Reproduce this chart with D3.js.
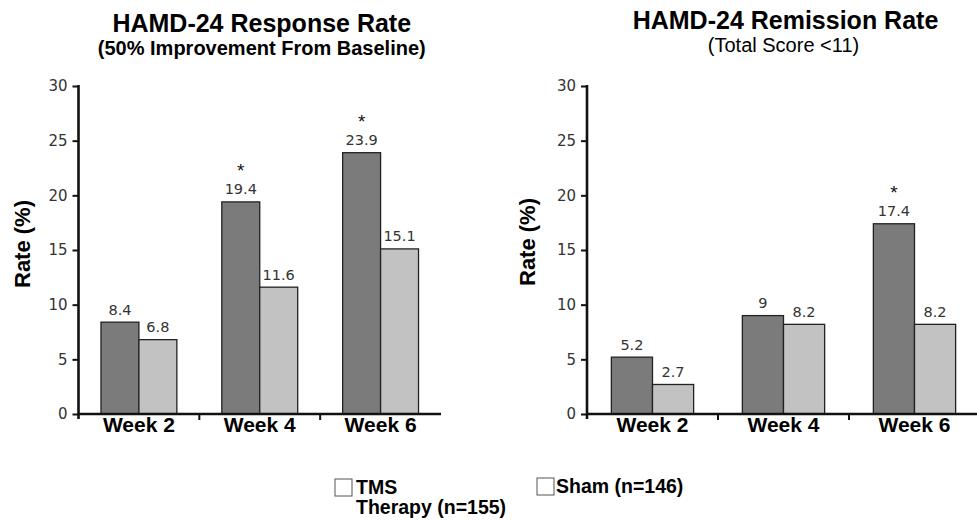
<!DOCTYPE html>
<html>
<head>
<meta charset="utf-8">
<script src="https://cdn.jsdelivr.net/npm/d3@7"></script>
<style>
  html, body { margin: 0; padding: 0; background: #fff; }
  svg { display: block; }
</style>
</head>
<body>
<svg id="chart" width="977" height="521"></svg>
<script>
// ---------- data ----------
const categories = ["Week 2", "Week 4", "Week 6"];
const responseTMS = [8.4, 19.4, 23.9];
const responseSham = [6.8, 11.6, 15.1];
const responseSig = [false, true, true];
const remissionTMS = [5.2, 9, 17.4];
const remissionSham = [2.7, 8.2, 8.2];
const remissionSig = [false, false, true];
const yTicks = [0, 5, 10, 15, 20, 25, 30];
const legendTMSLines = ["TMS", "Therapy (n=155)"];
const legendSham = "Sham (n=146)";
const panelTitles = ["HAMD-24 Response Rate", "HAMD-24 Remission Rate"];
const panelSubtitles = ["(50% Improvement From Baseline)", "(Total Score <11)"];
const yLabel = "Rate (%)";

// ---------- style ----------
const TMS_COLOR = "#7b7b7b";
const SHAM_COLOR = "#c2c2c2";
const BAR_STROKE = "#222";
const SANS = "'Liberation Sans', Arial, Helvetica, sans-serif";
const NUMF = "'DejaVu Sans', 'Lucida Grande', sans-serif";

const svg = d3.select("#chart");

const y = d3.scaleLinear().domain([0, 30]).range([414, 86]);

const panels = [
  { x0: 78.5, x1: 441, tms: responseTMS, sham: responseSham, sig: responseSig,
    title: panelTitles[0], sub: panelSubtitles[0], subBold: true, subSize: 20,
    titleY: 32, subY: 55, ylabX: 30, ylabY: 244 },
  { x0: 587, x1: 980, tms: remissionTMS, sham: remissionSham, sig: remissionSig,
    title: panelTitles[1], sub: panelSubtitles[1], subBold: false, subSize: 20,
    titleY: 29, subY: 52, ylabX: 535, ylabY: 242 }
];

panels.forEach(p => {
  const g = svg.append("g");
  const x = d3.scaleBand().domain(categories).range([p.x0, p.x1])
    .paddingInner(0.372).paddingOuter(0.186);
  const xs = d3.scaleBand().domain(["tms", "sham"]).range([0, x.bandwidth()]);
  const step = x.step();

  // bars
  categories.forEach((c, i) => {
    const vals = [["tms", p.tms[i], TMS_COLOR], ["sham", p.sham[i], SHAM_COLOR]];
    vals.forEach(([k, v, col]) => {
      g.append("rect")
        .attr("x", x(c) + xs(k))
        .attr("y", y(v))
        .attr("width", xs.bandwidth())
        .attr("height", y(0) - y(v))
        .attr("fill", col)
        .attr("stroke", BAR_STROKE)
        .attr("stroke-width", 1.3);
      g.append("text")
        .attr("x", x(c) + xs(k) + xs.bandwidth() / 2)
        .attr("y", y(v) - 7.5)
        .attr("text-anchor", "middle")
        .attr("font-family", NUMF)
        .attr("font-size", 14.5)
        .attr("fill", "#333")
        .text(String(v));
    });
    if (p.sig[i]) {
      g.append("text")
        .attr("x", x(c) + xs("tms") + xs.bandwidth() / 2)
        .attr("y", y(p.tms[i]) - 7.5 - 17)
        .attr("text-anchor", "middle")
        .attr("font-family", SANS)
        .attr("font-size", 19)
        .attr("fill", "#111")
        .text("*");
    }
  });

  // y axis
  const yAxis = d3.axisLeft(y).tickValues(yTicks).tickSize(6).tickPadding(5).tickSizeOuter(0);
  const ya = g.append("g").attr("transform", `translate(${p.x0},0)`).call(yAxis);
  ya.select(".domain").remove();
  ya.selectAll(".tick line").attr("stroke", "#111").attr("stroke-width", 2);
  ya.selectAll(".tick text").attr("font-family", NUMF).attr("font-size", 15).attr("fill", "#333");
  g.append("line")
    .attr("x1", p.x0).attr("x2", p.x0)
    .attr("y1", y(30) - 1).attr("y2", y(0) + 5)
    .attr("stroke", "#111").attr("stroke-width", 2.6);

  // x axis
  g.append("line")
    .attr("x1", p.x0).attr("x2", p.x1)
    .attr("y1", y(0)).attr("y2", y(0))
    .attr("stroke", "#111").attr("stroke-width", 2.6);
  categories.slice(1).forEach(c => {
    const bx = x(c) - step * x.paddingInner() / 2;
    g.append("line")
      .attr("x1", bx).attr("x2", bx)
      .attr("y1", y(0)).attr("y2", y(0) + 6)
      .attr("stroke", "#111").attr("stroke-width", 2);
  });
  categories.forEach(c => {
    g.append("text")
      .attr("x", x(c) + x.bandwidth() / 2)
      .attr("y", 432)
      .attr("text-anchor", "middle")
      .attr("font-family", SANS)
      .attr("font-weight", "bold")
      .attr("font-size", 21)
      .attr("fill", "#000")
      .text(c);
  });

  // y label
  g.append("text")
    .attr("transform", `translate(${p.ylabX},${p.ylabY}) rotate(-90)`)
    .attr("text-anchor", "middle")
    .attr("font-family", SANS)
    .attr("font-weight", "bold")
    .attr("font-size", 22)
    .attr("fill", "#000")
    .text(yLabel);

  // titles
  const cx = (p.x0 + p.x1) / 2 + 2;
  g.append("text")
    .attr("x", cx).attr("y", p.titleY)
    .attr("text-anchor", "middle")
    .attr("font-family", SANS).attr("font-weight", "bold")
    .attr("font-size", 25).attr("fill", "#000")
    .text(p.title);
  g.append("text")
    .attr("x", p.subBold ? cx : cx - 2).attr("y", p.subY)
    .attr("text-anchor", "middle")
    .attr("font-family", SANS).attr("font-weight", p.subBold ? "bold" : "normal")
    .attr("font-size", p.subSize).attr("fill", "#000")
    .text(p.sub);
});

// ---------- legend ----------
const leg = svg.append("g");
leg.append("rect").attr("x", 335).attr("y", 479).attr("width", 17).attr("height", 17)
  .attr("fill", "#fff").attr("stroke", "#555").attr("stroke-width", 1);
legendTMSLines.forEach((t, i) => {
  leg.append("text").attr("x", 356).attr("y", 494 + i * 20)
    .attr("font-family", SANS).attr("font-weight", "bold").attr("font-size", 19.5)
    .attr("fill", "#000").text(t);
});
leg.append("rect").attr("x", 537).attr("y", 478).attr("width", 17).attr("height", 17)
  .attr("fill", "#fff").attr("stroke", "#555").attr("stroke-width", 1);
leg.append("text").attr("x", 556).attr("y", 493)
  .attr("font-family", SANS).attr("font-weight", "bold").attr("font-size", 19.5)
  .attr("fill", "#000").text(legendSham);
</script>
</body>
</html>
